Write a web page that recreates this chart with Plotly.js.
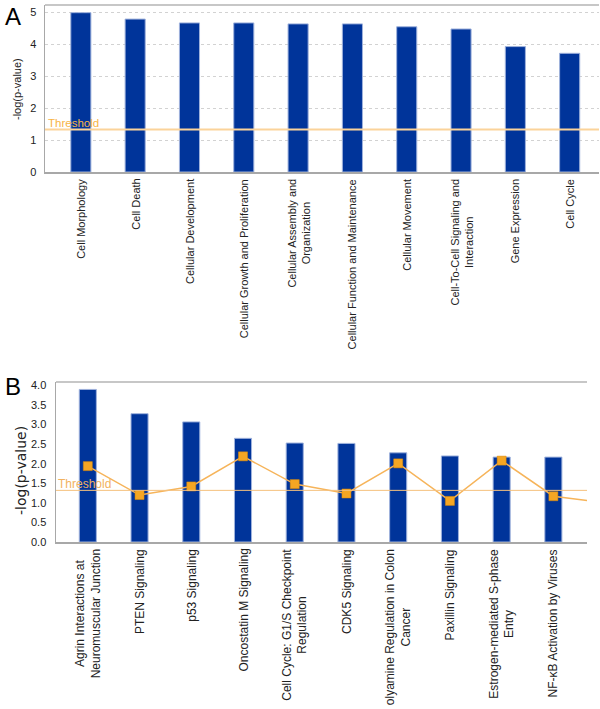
<!DOCTYPE html>
<html>
<head>
<meta charset="utf-8">
<script src="https://cdn.plot.ly/plotly-3.0.1.min.js"></script>
<style>
  body { margin: 0; background: #fff; }
  #chart { width: 600px; height: 709px; }
</style>
</head>
<body>
<div id="chart"></div>
<script>
// panel A - functional categories
var catsA = ['Cell Morphology', 'Cell Death', 'Cellular Development',
  'Cellular Growth and Proliferation', 'Cellular Assembly and<br>Organization',
  'Cellular Function and Maintenance', 'Cellular Movement',
  'Cell-To-Cell Signaling and<br>Interaction', 'Gene Expression', 'Cell Cycle'];
var valsA = [4.98, 4.78, 4.66, 4.66, 4.63, 4.63, 4.54, 4.47, 3.92, 3.71];
var thresholdA = 1.33;

// panel B - canonical pathways (7th label is cut at the image edge in the source)
var catsB = ['Agrin Interactions at<br>Neuromuscular Junction', 'PTEN Signaling',
  'p53 Signaling', 'Oncostatin M Signaling', 'Cell Cycle: G1/S Checkpoint<br>Regulation',
  'CDK5 Signaling', 'olyamine Regulation in Colon<br>Cancer', 'Paxillin Signaling',
  'Estrogen-mediated S-phase<br>Entry', 'NF-\u03baB Activation by Viruses'];
var valsB = [3.90, 3.28, 3.07, 2.65, 2.53, 2.52, 2.28, 2.20, 2.17, 2.17];
// ratio line, the last point sits off the right edge of the plot
var ratioB = [1.94, 1.20, 1.42, 2.19, 1.48, 1.24, 2.01, 1.05, 2.08, 1.17, 1.0];
var thresholdB = 1.32;

var barBlue = '#00349a';
var orange = '#f5a623';
var sans = 'Liberation Sans, Arial, sans-serif';

function idx(n) {
  var out = [];
  for (var i = 0; i < n; i++) out.push(i);
  return out;
}

var traceA = {
  x: idx(catsA.length), y: valsA, type: 'bar', width: 0.37,
  xaxis: 'x', yaxis: 'y',
  marker: { color: barBlue, line: { color: '#9fb2dc', width: 1 } },
  hoverinfo: 'skip'
};
var traceB = {
  x: idx(catsB.length), y: valsB, type: 'bar', width: 0.33,
  xaxis: 'x2', yaxis: 'y2',
  marker: { color: barBlue, line: { color: '#9fb2dc', width: 1 } },
  hoverinfo: 'skip'
};
var traceRatio = {
  x: idx(ratioB.length), y: ratioB, type: 'scatter', mode: 'lines+markers',
  xaxis: 'x2', yaxis: 'y2', cliponaxis: true,
  line: { color: '#f6b45a', width: 1.5 },
  marker: { symbol: 'square', size: 9, color: orange, line: { color: '#e08a00', width: 0.5 } },
  hoverinfo: 'skip'
};

var annotations = [];
// category labels, rotated, centred lines
for (var i = 0; i < catsA.length; i++) {
  annotations.push({
    x: i, y: 0, xref: 'x', yref: 'y', text: catsA[i], showarrow: false,
    textangle: -90, xanchor: 'center', yanchor: 'top', yshift: -5, align: 'center',
    font: { family: sans, size: 11, color: '#222' }
  });
}
for (var j = 0; j < catsB.length; j++) {
  annotations.push({
    x: j, y: 0, xref: 'x2', yref: 'y2', text: catsB[j], showarrow: false,
    textangle: -90, xanchor: 'center', yanchor: 'top', yshift: -5, align: 'center',
    font: { family: sans, size: 12, color: '#222' }
  });
}
annotations.push(
  { x: 0.005, y: 0.998, xref: 'paper', yref: 'paper', text: 'A', showarrow: false,
    xanchor: 'left', yanchor: 'top', font: { family: sans, size: 24, color: '#000' } },
  { x: 0.005, y: 0.477, xref: 'paper', yref: 'paper', text: 'B', showarrow: false,
    xanchor: 'left', yanchor: 'top', font: { family: sans, size: 24, color: '#000' } },
  { x: 17 / 600, y: 1 - 89 / 709, xref: 'paper', yref: 'paper', text: '-log(p-value)', showarrow: false,
    textangle: -90, xanchor: 'center', yanchor: 'middle',
    font: { family: sans, size: 11, color: '#222' } },
  { x: 21 / 600, y: 1 - 471 / 709, xref: 'paper', yref: 'paper', text: '-log(p-value)', showarrow: false,
    textangle: -90, xanchor: 'center', yanchor: 'middle',
    font: { family: 'DejaVu Sans, sans-serif', size: 14, color: '#222' } },
  { x: -0.64, y: thresholdA, xref: 'x', yref: 'y', text: 'Threshold', showarrow: false,
    xanchor: 'left', yanchor: 'bottom', yshift: -2,
    font: { family: sans, size: 11.5, color: '#f8b446' } },
  { x: -0.615, y: thresholdB, xref: 'x2', yref: 'y2', text: 'Threshold', showarrow: false,
    xanchor: 'left', yanchor: 'bottom', yshift: -3,
    font: { family: sans, size: 12, color: '#f2b260' } }
);

var shapes = [
  // threshold lines
  { type: 'line', xref: 'x domain', yref: 'y', x0: 0, x1: 1, y0: thresholdA, y1: thresholdA,
    line: { color: '#fbd39a', width: 2 } },
  { type: 'line', xref: 'x2 domain', yref: 'y2', x0: 0, x1: 1, y0: thresholdB, y1: thresholdB,
    line: { color: '#f5c17e', width: 1 } },
  // top borders of both plot frames
  { type: 'line', xref: 'x domain', yref: 'y domain', x0: 0, x1: 1, y0: 1, y1: 1,
    line: { color: '#b5b5b5', width: 1.5 } },
  { type: 'line', xref: 'x2 domain', yref: 'y2 domain', x0: 0, x1: 1, y0: 1, y1: 1,
    line: { color: '#b5b5b5', width: 1.5 } }
];

var layout = {
  width: 600, height: 709,
  margin: { l: 0, r: 0, t: 0, b: 0 },
  paper_bgcolor: '#fff', plot_bgcolor: '#fff',
  showlegend: false,
  xaxis: {
    domain: [45 / 600, 599 / 600], anchor: 'y', range: [-0.66, 9.54],
    showticklabels: false, showgrid: false, zeroline: false,
    showline: true, linecolor: '#a8a8a8', linewidth: 1.5, ticks: ''
  },
  yaxis: {
    domain: [1 - 172 / 709, 1 - 5 / 709], anchor: 'x', range: [0, 5.22],
    tickvals: [0, 1, 2, 3, 4, 5], ticks: 'outside', ticklen: 5, tickcolor: 'rgba(0,0,0,0)',
    tickfont: { family: sans, size: 11, color: '#222' },
    showgrid: true, gridcolor: '#d2d2d2', griddash: 'dot', gridwidth: 1,
    zeroline: false, showline: true, linecolor: '#a8a8a8', linewidth: 1.5
  },
  xaxis2: {
    domain: [56 / 600, 587 / 600], anchor: 'y2', range: [-0.615, 9.65],
    showticklabels: false, showgrid: false, zeroline: false,
    showline: true, linecolor: '#a8a8a8', linewidth: 1.5, ticks: ''
  },
  yaxis2: {
    domain: [1 - 542 / 709, 1 - 382 / 709], anchor: 'x2', range: [0, 4.09],
    tickvals: [0, 0.5, 1, 1.5, 2, 2.5, 3, 3.5, 4], tickformat: '.1f',
    ticks: 'outside', ticklen: 6, tickcolor: 'rgba(0,0,0,0)',
    tickfont: { family: sans, size: 11, color: '#222' },
    showgrid: false, zeroline: false, showline: true, linecolor: '#a8a8a8', linewidth: 1.5
  },
  annotations: annotations,
  shapes: shapes
};

Plotly.newPlot('chart', [traceA, traceB, traceRatio], layout, { displayModeBar: false, staticPlot: true });
</script>
</body>
</html>
